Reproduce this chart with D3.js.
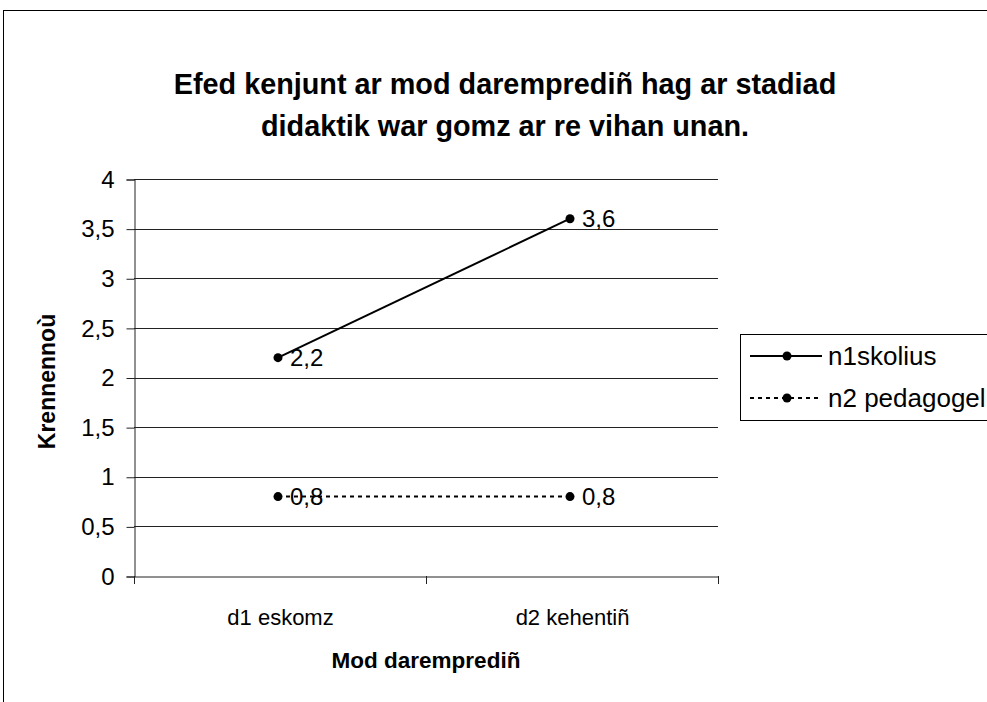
<!DOCTYPE html>
<html>
<head>
<meta charset="utf-8">
<script src="https://cdn.jsdelivr.net/npm/d3@7.9.0/dist/d3.min.js"></script>
<style>
  body { margin: 0; background: #fff; }
  svg { font-family: "Liberation Sans", Arial, sans-serif; }
</style>
</head>
<body>
<svg width="987" height="702"></svg>
<script>
const categories = ["d1 eskomz", "d2 kehentiñ"];
const seriesNames = ["n1skolius", "n2 pedagogel"];
const n1Values = [2.2, 3.6];
const n2Values = [0.8, 0.8];
const yTicks = [0, 0.5, 1, 1.5, 2, 2.5, 3, 3.5, 4];
const titleLines = ["Efed kenjunt ar mod daremprediñ hag ar stadiad", "didaktik war gomz ar re vihan unan."];

const series = [
  { name: seriesNames[0], values: n1Values, dash: null },
  { name: seriesNames[1], values: n2Values, dash: "4,4" }
];

const comma = d => String(d).replace(".", ",");
const svg = d3.select("svg");

// outer chart border (runs off the window on right / bottom)
svg.append("rect")
  .attr("x", 3.5).attr("y", 10.5)
  .attr("width", 1100).attr("height", 800)
  .attr("fill", "none").attr("stroke", "#000");

// title
svg.append("text")
  .attr("text-anchor", "middle")
  .attr("font-weight", "bold").attr("font-size", 28.8)
  .selectAll("tspan").data(titleLines).join("tspan")
  .attr("x", 505).attr("y", (d, i) => 94 + i * 42)
  .text(d => d);

const plot = { left: 134, right: 718, top: 179, bottom: 576 };

const x = d3.scaleBand().domain(categories).range([plot.left, plot.right]);
const y = d3.scaleLinear().domain([0, 4]).range([plot.bottom, plot.top]);
const cx = d => x(d) + x.bandwidth() / 2 - 2;

// gridlines
svg.append("g").selectAll("line").data(yTicks.filter(t => t > 0)).join("line")
  .attr("x1", plot.left).attr("x2", plot.right)
  .attr("y1", d => Math.round(y(d)) + 0.5).attr("y2", d => Math.round(y(d)) + 0.5)
  .attr("stroke", "#222").attr("stroke-width", 1);

// y axis
const yAxis = svg.append("g")
  .attr("transform", `translate(${plot.left + 0.5},0.5)`)
  .call(d3.axisLeft(y).tickValues(yTicks).tickSize(8).tickPadding(12).tickFormat(comma));
yAxis.select(".domain").attr("stroke", "#222");
yAxis.selectAll(".tick line").attr("stroke", "#222");
yAxis.selectAll("text").attr("font-size", 24).attr("font-family", "Liberation Sans, Arial").attr("fill", "#000");

// x axis
const xAxis = svg.append("g")
  .attr("transform", `translate(0.5,${plot.bottom + 0.5})`)
  .call(d3.axisBottom(x).tickSize(0).tickPadding(33));
xAxis.select(".domain").attr("stroke", "#222");
xAxis.selectAll("text").attr("font-size", 22).attr("font-family", "Liberation Sans, Arial").attr("fill", "#000");
// category separator ticks
svg.append("g").selectAll("line")
  .data([plot.left, ...categories.map(c => x(c) + x.bandwidth())]).join("line")
  .attr("x1", d => Math.round(d) + 0.5).attr("x2", d => Math.round(d) + 0.5)
  .attr("y1", plot.bottom).attr("y2", plot.bottom + 8)
  .attr("stroke", "#222");

// axis titles
svg.append("text")
  .attr("x", (plot.left + plot.right) / 2).attr("y", 668)
  .attr("text-anchor", "middle").attr("font-weight", "bold").attr("font-size", 22.5)
  .text("Mod daremprediñ");
svg.append("text")
  .attr("transform", `translate(55,${(plot.top + plot.bottom) / 2 + 4}) rotate(-90)`)
  .attr("text-anchor", "middle").attr("font-weight", "bold").attr("font-size", 23)
  .text("Krennennoù");

// lines, markers, value labels
const line = d3.line().x((d, i) => cx(categories[i])).y(d => y(d));
series.forEach(s => {
  svg.append("path")
    .attr("d", line(s.values))
    .attr("fill", "none").attr("stroke", "#000").attr("stroke-width", 2)
    .attr("stroke-dasharray", s.dash);
  svg.append("g").selectAll("circle").data(s.values).join("circle")
    .attr("cx", (d, i) => cx(categories[i])).attr("cy", d => y(d))
    .attr("r", 4.5).attr("fill", "#000");
  svg.append("g").selectAll("text").data(s.values).join("text")
    .attr("x", (d, i) => cx(categories[i]) + 12).attr("y", d => y(d) + 8.5)
    .attr("font-size", 24)
    .text(comma);
});

// legend
const legend = svg.append("g");
legend.append("rect")
  .attr("x", 740.5).attr("y", 334.5).attr("width", 300).attr("height", 86)
  .attr("fill", "#fff").attr("stroke", "#000");
series.forEach((s, i) => {
  const ly = 356 + i * 42;
  legend.append("line")
    .attr("x1", 750).attr("x2", 822).attr("y1", ly).attr("y2", ly)
    .attr("stroke", "#000").attr("stroke-width", 2)
    .attr("stroke-dasharray", s.dash);
  legend.append("circle").attr("cx", 787).attr("cy", ly).attr("r", 4.5).attr("fill", "#000");
  legend.append("text")
    .attr("x", 828).attr("y", ly + 9).attr("font-size", 26)
    .text(s.name);
});
</script>
</body>
</html>
